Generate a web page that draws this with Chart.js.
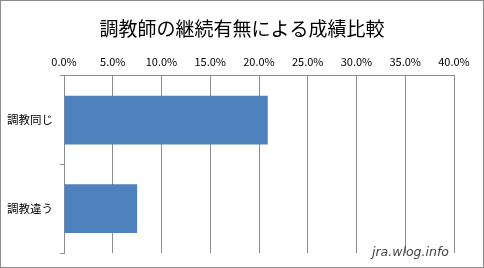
<!DOCTYPE html>
<html>
<head>
<meta charset="utf-8">
<script src="https://cdn.jsdelivr.net/npm/chart.js@4"></script>
<style>
  body { margin: 0; background: #fff; }
  #wrap { position: relative; width: 482px; height: 266px; border: 1px solid #8c8c8c; }
  #mark { position: absolute; left: 371px; top: 243px; font: italic 12.5px "DejaVu Sans"; color: #444; }
</style>
</head>
<body>
<div id="wrap">
  <canvas id="rateChart" width="482" height="266"></canvas>
  <span id="mark">jra.wlog.info</span>
</div>
<script>
// categories and values (%)
const labels = ['調教同じ', '調教違う'];
const rates = [20.9, 7.5];
const tickMax = 40;
const tickStep = 5;

const ctx = document.getElementById('rateChart').getContext('2d');

new Chart(ctx, {
    type: 'bar',
    data: {
        labels: labels,
        datasets: [{
            data: rates,
            backgroundColor: '#4f81bd',
            borderWidth: 0,
            barPercentage: 0.55,
            categoryPercentage: 1
        }]
    },
    options: {
        indexAxis: 'y',
        responsive: false,
        animation: false,
        layout: { padding: { left: 0, right: 0, bottom: 14, top: 0 } },
        plugins: {
            legend: { display: false },
            tooltip: { enabled: false },
            title: {
                display: true,
                text: '調教師の継続有無による成績比較',
                color: '#000',
                font: { family: '"Noto Sans CJK JP"', size: 19, weight: 'normal' },
                padding: { top: 16, bottom: 0 }
            }
        },
        scales: {
            x: {
                position: 'top',
                min: 0,
                max: tickMax,
                ticks: {
                    stepSize: tickStep,
                    padding: 7,
                    color: '#000',
                    font: { family: '"Noto Sans CJK JP"', size: 11 },
                    callback: (v) => v.toFixed(1) + '%'
                },
                grid: { color: '#8c8c8c', drawTicks: false },
                border: { display: true, color: '#8c8c8c' },
                afterFit: (s) => { s.height = 36; }
            },
            y: {
                ticks: {
                    padding: 7,
                    color: '#000',
                    font: { family: '"Noto Sans CJK JP"', size: 11.5 }
                },
                grid: { offset: true, drawOnChartArea: false, tickLength: 4, color: '#8c8c8c' },
                border: { display: true, color: '#8c8c8c' },
                afterFit: (s) => { s.width = 63; }
            },
            // empty spacer on the right so the plot ends where the reference does
            spacer: {
                type: 'linear',
                position: 'right',
                ticks: { display: false },
                grid: { display: false },
                border: { display: false },
                afterFit: (s) => { s.width = 29; }
            }
        }
    }
});
</script>
</body>
</html>
